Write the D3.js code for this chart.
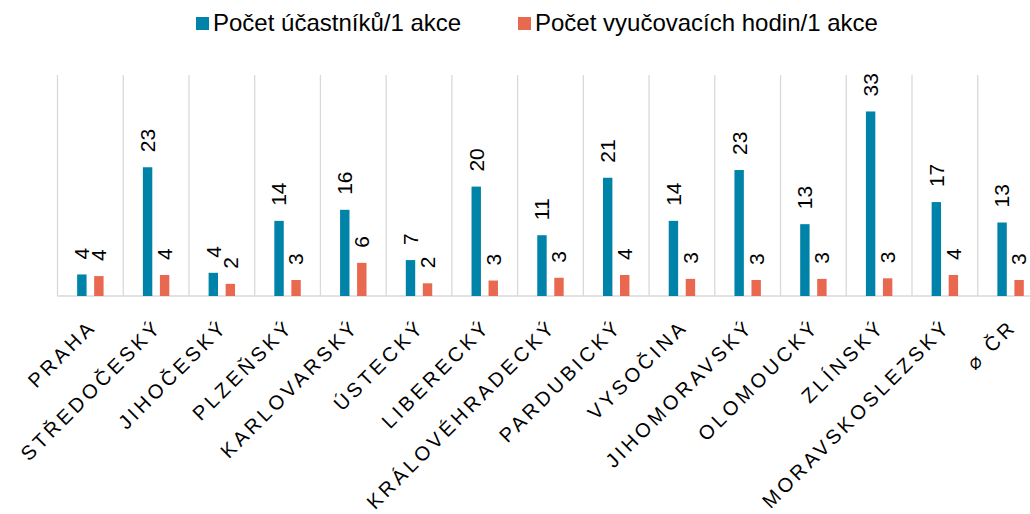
<!DOCTYPE html>
<html>
<head>
<meta charset="utf-8">
<script src="https://cdn.jsdelivr.net/npm/d3@7"></script>
<style>
  body { margin: 0; background: #fff; }
  svg text { font-family: "Liberation Sans", Arial, sans-serif; fill: #000; }
</style>
</head>
<body>
<svg id="chart" width="1030" height="514"></svg>
<script>
// data
var regions = ["PRAHA", "STŘEDOČESKÝ", "JIHOČESKÝ", "PLZEŇSKÝ", "KARLOVARSKÝ", "ÚSTECKÝ",
  "LIBERECKÝ", "KRÁLOVÉHRADECKÝ", "PARDUBICKÝ", "VYSOČINA", "JIHOMORAVSKÝ",
  "OLOMOUCKÝ", "ZLÍNSKÝ", "MORAVSKOSLEZSKÝ", "⌀ ČR"];
var participants = [3.9, 23.3, 4.2, 13.6, 15.6, 6.5, 19.8, 11.0, 21.4, 13.6, 22.8, 13.0, 33.4, 17.0, 13.3];
var hours = [3.6, 3.8, 2.2, 2.9, 6.0, 2.3, 2.8, 3.3, 3.8, 3.1, 2.9, 3.1, 3.2, 3.8, 2.9];
var seriesNames = ["Počet účastníků/1 akce", "Počet vyučovacích hodin/1 akce"];
var seriesColors = ["#0083a9", "#e8694f"];

var svg = d3.select("#chart");

var plotLeft = 57.5, bandW = 65.73;
var baseY = 296, topY = 75;

var x = d3.scaleBand()
  .domain(regions)
  .range([plotLeft, plotLeft + bandW * regions.length])
  .padding(0);

var xInner = d3.scaleBand()
  .domain([0, 1])
  .range([19.65, x.bandwidth() - 19.65])
  .paddingInner(0.447)
  .paddingOuter(0);

var y = d3.scaleLinear().domain([0, 40]).range([baseY, topY]);

var rows = regions.map(function (r, i) {
  return { region: r, values: [participants[i], hours[i]] };
});

// vertical gridlines between categories
svg.append("g")
  .selectAll("line")
  .data(regions)
  .enter().append("line")
  .attr("x1", d => x(d)).attr("x2", d => x(d))
  .attr("y1", topY).attr("y2", baseY)
  .attr("stroke", "#d9d9d9")
  .attr("stroke-width", 1.3);

// baseline
svg.append("line")
  .attr("x1", plotLeft).attr("x2", 1030)
  .attr("y1", baseY).attr("y2", baseY)
  .attr("stroke", "#d9d9d9")
  .attr("stroke-width", 1.5);

var groups = svg.append("g")
  .selectAll("g")
  .data(rows)
  .enter().append("g")
  .attr("transform", d => "translate(" + x(d.region) + ",0)");

groups.selectAll("rect")
  .data(d => d.values)
  .enter().append("rect")
  .attr("x", (v, i) => xInner(i))
  .attr("width", xInner.bandwidth())
  .attr("y", v => y(v))
  .attr("height", v => baseY - y(v))
  .attr("fill", (v, i) => seriesColors[i]);

groups.selectAll("text.val")
  .data(d => d.values)
  .enter().append("text")
  .attr("class", "val")
  .attr("transform", (v, i) => "translate(" + (xInner(i) + xInner.bandwidth() / 2) + "," + (y(v) - 15) + ") rotate(-90)")
  .attr("dy", "0.35em")
  .attr("font-size", 21)
  .text(v => d3.format(".0f")(v));

// category labels
svg.append("g")
  .selectAll("text")
  .data(regions)
  .enter().append("text")
  .attr("transform", d => "translate(" + (x(d) + x.bandwidth() / 2 + 7) + ",328) rotate(-45)")
  .attr("text-anchor", "end")
  .attr("font-size", 20)
  .attr("letter-spacing", 3.5)
  .text(d => d);

// legend
var legendX = [196, 518];
var legend = svg.append("g")
  .selectAll("g")
  .data(seriesNames)
  .enter().append("g")
  .attr("transform", (d, i) => "translate(" + legendX[i] + ",0)");

legend.append("rect")
  .attr("x", 0).attr("y", 17)
  .attr("width", 13).attr("height", 13)
  .attr("fill", (d, i) => seriesColors[i]);

legend.append("text")
  .attr("x", 17).attr("y", 31)
  .attr("font-size", 24)
  .text(d => d);
</script>
</body>
</html>
